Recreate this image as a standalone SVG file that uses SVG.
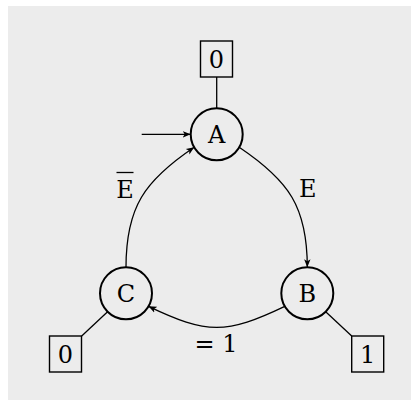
<svg xmlns="http://www.w3.org/2000/svg" width="411" height="400" viewBox="0 0 411 400">
<style>
.st{fill:none;stroke:#000;stroke-width:2}
.bx{fill:none;stroke:#000;stroke-width:1.4}
.ln{fill:none;stroke:#000;stroke-width:1.3}
text{font-family:"DejaVu Serif","Liberation Serif",serif;font-size:24px;fill:#000;text-anchor:middle}
</style>
<defs>
<marker id="ah" viewBox="0 0 10 10" refX="10" refY="5" markerWidth="8" markerHeight="8" markerUnits="userSpaceOnUse" orient="auto">
<path d="M0,1 L10,5 L0,9 L2.5,5 Z" fill="#000"/>
</marker>
</defs>
<rect x="8" y="6" width="403" height="394" fill="#ececec"/>
<g id="connectors">
<line class="ln" x1="141.7" y1="134.3" x2="190.7" y2="134.3" marker-end="url(#ah)"/>
<path class="ln" d="M239.2,147.3 C289,180.8 307.3,207 307.3,267.3" marker-end="url(#ah)"/>
<path class="ln" d="M126,267.3 C126,207 144.5,180.8 194.2,147.3" marker-end="url(#ah)"/>
<path class="ln" d="M284.8,306.3 C226.3,334.3 206.9,334.3 148.5,306.3" marker-end="url(#ah)"/>
<line class="ln" x1="216.7" y1="108.3" x2="216.7" y2="77"/>
<line class="ln" x1="107.6" y1="311.7" x2="81.7" y2="336"/>
<line class="ln" x1="325.7" y1="311.7" x2="351.7" y2="336"/>
</g>
<g id="labels">
<text x="307.7" y="197.3">E</text>
<text x="125" y="198.3">E</text>
<line class="ln" x1="116.5" y1="172.5" x2="133.5" y2="172.5"/>
<text x="216" y="352.3">= 1</text>
</g>
<g id="A"><circle class="st" cx="216.7" cy="134.3" r="26"/><text x="216.7" y="143">A</text></g>
<g id="B"><circle class="st" cx="307.3" cy="293.3" r="26"/><text x="307.3" y="302">B</text></g>
<g id="C"><circle class="st" cx="126" cy="293.3" r="26"/><text x="126" y="302">C</text></g>
<g id="outA"><rect class="bx" x="200.5" y="41" width="32" height="36"/><text x="216.5" y="67.5">0</text></g>
<g id="outC"><rect class="bx" x="49.5" y="336" width="32" height="36"/><text x="65.5" y="362.5">0</text></g>
<g id="outB"><rect class="bx" x="351.7" y="336" width="32" height="36"/><text x="367.7" y="362.5">1</text></g>
</svg>
